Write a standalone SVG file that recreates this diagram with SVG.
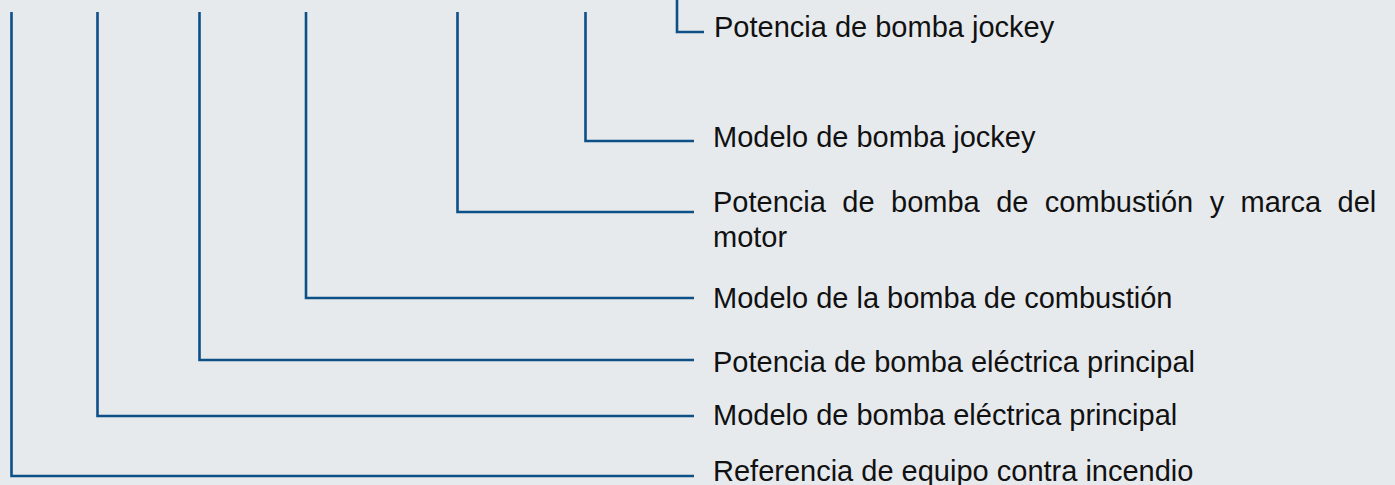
<svg xmlns="http://www.w3.org/2000/svg" width="1395" height="485" viewBox="0 0 1395 485">
<style>
.c{fill:none;stroke:#0d4f87;stroke-width:2.6;stroke-linecap:butt;stroke-linejoin:miter}
.t{font-family:"Liberation Sans",Arial,sans-serif;font-size:29px;fill:#111}
</style>
<rect width="1395" height="485" fill="#e7eaed"/>
<g id="connectors">
<path class="c" d="M11.5,12 V476 H694"/>
<path class="c" d="M97.5,12 V416 H694"/>
<path class="c" d="M199.5,12 V360 H694"/>
<path class="c" d="M306,12 V298 H694"/>
<path class="c" d="M457.5,12 V212 H694"/>
<path class="c" d="M585.5,12 V141 H694"/>
<path class="c" d="M677,0 V32 H704"/>
</g>
<g id="n1"><text class="t" x="714" y="37">Potencia de bomba jockey</text></g>
<g id="n2"><text class="t" x="713" y="147">Modelo de bomba jockey</text></g>
<g id="n3"><text class="t" x="713" y="212" word-spacing="8.4">Potencia de bomba de combustión y marca del</text><text class="t" x="713" y="247">motor</text></g>
<g id="n4"><text class="t" x="713" y="308">Modelo de la bomba de combustión</text></g>
<g id="n5"><text class="t" x="713" y="372">Potencia de bomba eléctrica principal</text></g>
<g id="n6"><text class="t" x="713" y="425">Modelo de bomba eléctrica principal</text></g>
<g id="n7"><text class="t" x="713" y="481">Referencia de equipo contra incendio</text></g>
</svg>
